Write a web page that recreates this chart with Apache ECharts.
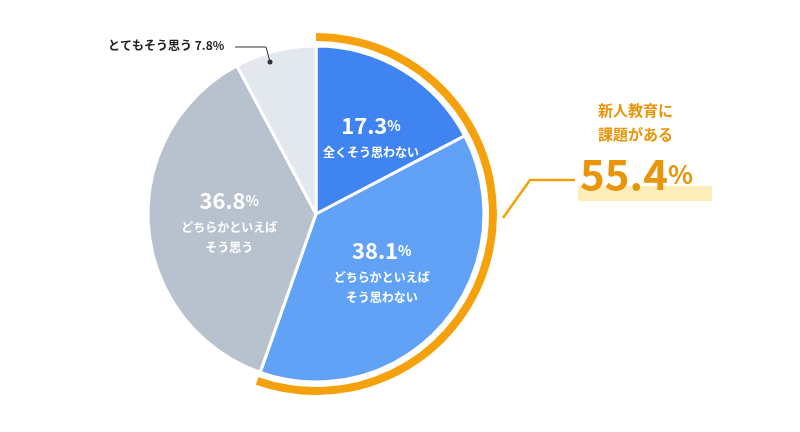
<!DOCTYPE html>
<html><head><meta charset="utf-8">
<script src="https://cdn.jsdelivr.net/npm/echarts@6/dist/echarts.min.js"></script>
<style>html,body{margin:0;background:#fff}#c{width:800px;height:432px}</style>
</head><body><div id="c"></div>
<script>
const categories = ['全くそう思わない', 'どちらかといえば\nそう思わない', 'どちらかといえば\nそう思う', 'とてもそう思う'];
const values = [17.3, 38.1, 36.8, 7.8];
const colors = ['#3f84f1', '#62a2f6', '#b8c2ce', '#e3e8ef'];
const highlight = ['新人教育に', '課題がある'];
const highlightValue = 55.4;
const font = '"Noto Sans CJK JP", sans-serif';
const chart = echarts.init(document.getElementById('c'));
chart.setOption({
  animation: false,
  textStyle: { fontFamily: font },
  series: [
    {
      type: 'pie', center: [316, 214], radius: [0, 168], startAngle: 90, clockwise: true,
      silent: true,
      itemStyle: { borderColor: '#fff', borderWidth: 3 },
      label: {
        position: 'inside', color: '#fff', lineHeight: 20,
        formatter: p => '{v|' + p.value.toFixed(1) + '}{p|%}\n{t|' + p.name.split('\n').join('}\n{t|') + '}',
        rich: {
          v: { fontSize: 22, fontWeight: 'bold', color: '#fff', fontFamily: font, lineHeight: 34 },
          p: { fontSize: 14, fontWeight: 'bold', color: '#fff', fontFamily: font, lineHeight: 34 },
          t: { fontSize: 12, fontWeight: 'bold', color: '#fff', fontFamily: font, lineHeight: 20 }
        }
      },
      labelLine: { show: false },
      data: categories.map((n, i) => ({ name: n, value: values[i], itemStyle: { color: colors[i] },
        label: { show: i < 3, offset: i === 0 ? [10, -4] : [0, 0] } }))
    },
    {
      type: 'pie', center: [316, 214], radius: [173, 181], startAngle: 90, clockwise: true,
      silent: true, label: { show: false }, labelLine: { show: false },
      data: [
        { value: highlightValue, itemStyle: { color: '#f5a10c' } },
        { value: 100 - highlightValue, itemStyle: { color: 'transparent' } }
      ]
    }
  ],
  graphic: [
    { type: 'text', z: 100, left: 108, top: 39, style: { text: categories[3] + ' ' + values[3].toFixed(1) + '%', font: 'bold 12px ' + font, fill: '#222' } },
    { type: 'polyline', z: 100, shape: { points: [[235, 47], [266, 47], [270, 62]] }, style: { stroke: '#333', lineWidth: 1, fill: null } },
    { type: 'circle', z: 100, shape: { cx: 270, cy: 62, r: 2.5 }, style: { fill: '#333' } },
    { type: 'polyline', z: 100, shape: { points: [[503, 218], [530, 180], [575, 180]] }, style: { stroke: '#f5a10c', lineWidth: 2.5, fill: null } },
    { type: 'text', z: 100, left: 598, top: 98, style: { text: highlight.join('\n'), font: 'bold 15px ' + font, fill: '#e8950a', lineHeight: 24, align: 'center' } },
    { type: 'rect', z: 99, shape: { x: 578, y: 186, width: 134, height: 15 }, style: { fill: '#fdedb8' } },
    { type: 'text', z: 101, left: 580, top: 153, style: { rich: {
        a: { fontSize: 42, fontWeight: 'bold', fill: '#e8950a', fontFamily: font },
        b: { fontSize: 26, fontWeight: 'bold', fill: '#e8950a', fontFamily: font }
      }, text: '{a|' + highlightValue.toFixed(1) + '}{b|%}' } }
  ]
});
</script></body></html>
